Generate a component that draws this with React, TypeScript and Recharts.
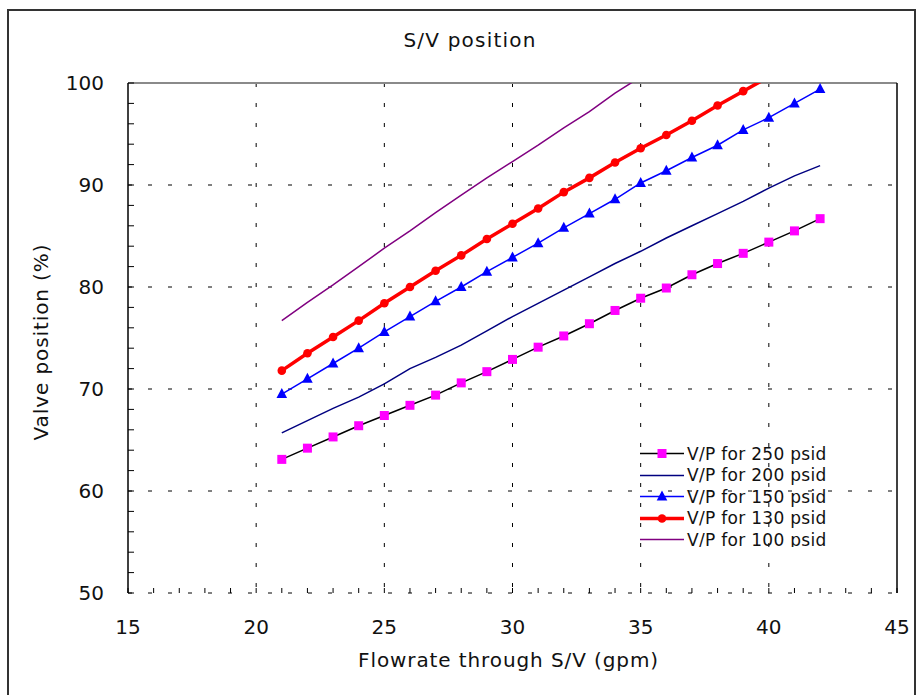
import React from 'react';
import { LineChart, Line, XAxis, YAxis, CartesianGrid, ReferenceLine, Legend } from 'recharts';

// ---- data ----
const flow = [21, 22, 23, 24, 25, 26, 27, 28, 29, 30, 31, 32, 33, 34, 35, 36, 37, 38, 39, 40, 41, 42];
const vp250 = [63.1, 64.2, 65.3, 66.4, 67.4, 68.4, 69.4, 70.6, 71.7, 72.9, 74.1, 75.2, 76.4, 77.7, 78.9, 79.9, 81.2, 82.3, 83.3, 84.4, 85.5, 86.7];
const vp200 = [65.7, 66.9, 68.1, 69.2, 70.5, 72.0, 73.1, 74.3, 75.7, 77.1, 78.4, 79.7, 81.0, 82.3, 83.5, 84.8, 86.0, 87.2, 88.4, 89.7, 90.9, 91.9];
const vp150 = [69.5, 71.0, 72.5, 74.0, 75.6, 77.1, 78.6, 80.0, 81.5, 82.9, 84.3, 85.8, 87.2, 88.6, 90.2, 91.4, 92.7, 93.9, 95.4, 96.6, 98.0, 99.4];
const vp130 = [71.8, 73.5, 75.1, 76.7, 78.4, 80.0, 81.6, 83.1, 84.7, 86.2, 87.7, 89.3, 90.7, 92.2, 93.6, 94.9, 96.3, 97.8, 99.2, 100.6, null, null];
const vp100 = [76.7, 78.5, 80.2, 82.0, 83.8, 85.5, 87.3, 89.0, 90.7, 92.3, 93.9, 95.6, 97.2, 99.0, 100.6, null, null, null, null, null, null, null];

const seriesNames = ['V/P for 250 psid', 'V/P for 200 psid', 'V/P for 150 psid', 'V/P for 130 psid', 'V/P for 100 psid'];

const xTicks = [15, 16, 17, 18, 19, 20, 21, 22, 23, 24, 25, 26, 27, 28, 29, 30, 31, 32, 33, 34, 35, 36, 37, 38, 39, 40, 41, 42, 43, 44, 45];
const yTicks = [50, 52, 54, 56, 58, 60, 62, 64, 66, 68, 70, 72, 74, 76, 78, 80, 82, 84, 86, 88, 90, 92, 94, 96, 98, 100];
const xGridValues = [20, 25, 30, 35, 40];
const yGridValues = [50, 60, 70, 80, 90, 100];

const titleText = 'S/V position';
const xAxisTitle = 'Flowrate through S/V (gpm)';
const yAxisTitle = 'Valve position (%)';

const data = flow.map((f, i) => ({
  flow: f,
  vp250: vp250[i],
  vp200: vp200[i],
  vp150: vp150[i],
  vp130: vp130[i],
  vp100: vp100[i],
}));

type MarkerType = 'square' | 'triangle' | 'circle' | 'none';
const series: { key: string; name: string; stroke: string; width: number; marker: MarkerType; markerColor: string }[] = [
  { key: 'vp250', name: seriesNames[0], stroke: '#000000', width: 1.5, marker: 'square', markerColor: '#FF00FF' },
  { key: 'vp200', name: seriesNames[1], stroke: '#000080', width: 1.5, marker: 'none', markerColor: '#000080' },
  { key: 'vp150', name: seriesNames[2], stroke: '#0000FF', width: 1.5, marker: 'triangle', markerColor: '#0000FF' },
  { key: 'vp130', name: seriesNames[3], stroke: '#FF0000', width: 3.5, marker: 'circle', markerColor: '#FF0000' },
  { key: 'vp100', name: seriesNames[4], stroke: '#800080', width: 1.5, marker: 'none', markerColor: '#800080' },
];

const FONT = '"DejaVu Sans", Verdana, sans-serif';

function Marker({ type, cx, cy, color }: { type: MarkerType; cx: number; cy: number; color: string }) {
  if (type === 'square') return <rect x={cx - 4.5} y={cy - 4.5} width={9} height={9} fill={color} />;
  if (type === 'triangle')
    return <polygon points={`${cx},${cy - 6} ${cx + 5.3},${cy + 4} ${cx - 5.3},${cy + 4}`} fill={color} />;
  if (type === 'circle') return <circle cx={cx} cy={cy} r={4.3} fill={color} />;
  return null;
}

function makeDot(s: (typeof series)[number]) {
  return (p: any) => {
    const k = `${s.key}-${p.index}`;
    if (s.marker === 'none' || p.cx == null || p.cy == null || p.value == null) return <g key={k} />;
    return (
      <g key={k}>
        <Marker type={s.marker} cx={p.cx} cy={p.cy} color={s.markerColor} />
      </g>
    );
  };
}

function LegendContent() {
  return (
    <div style={{ fontFamily: FONT }}>
      {series.map((s) => (
        <div key={s.key} style={{ display: 'flex', alignItems: 'center', height: 21.5 }}>
          <svg width={44} height={21} style={{ flex: 'none' }}>
            <line x1={0} x2={44} y1={10.5} y2={10.5} stroke={s.stroke} strokeWidth={s.width} />
            <Marker type={s.marker} cx={22} cy={10.5} color={s.markerColor} />
          </svg>
          <span style={{ marginLeft: 3, fontSize: 17, color: '#111', whiteSpace: 'nowrap', letterSpacing: 0.3 }}>
            {s.name}
          </span>
        </div>
      ))}
    </div>
  );
}

export default function App() {
  const tickStyle = { fill: '#111', fontSize: 20, fontFamily: FONT };
  return (
    <div
      style={{
        position: 'absolute',
        left: 0,
        top: 0,
        width: 922,
        height: 695,
        overflow: 'hidden',
        background: '#fff',
      }}
    >
      <div
        style={{
          position: 'absolute',
          left: 7,
          top: 9,
          width: 909,
          height: 720,
          border: '2px solid #333',
          boxSizing: 'border-box',
        }}
      />
      <div
        style={{
          position: 'absolute',
          left: 470,
          top: 28,
          transform: 'translateX(-50%)',
          fontFamily: FONT,
          fontSize: 20,
          letterSpacing: 1.2,
          color: '#111',
          whiteSpace: 'nowrap',
        }}
      >
        {titleText}
      </div>
      <div style={{ position: 'absolute', left: 0, top: 0 }}>
        <LineChart width={922} height={695} data={data} margin={{ top: 83, right: 25, left: 0, bottom: 22 }}>
          <CartesianGrid
            stroke="#000"
            strokeWidth={1}
            strokeDasharray="4 16"
            horizontalValues={yGridValues}
            verticalValues={xGridValues}
          />
          <ReferenceLine y={100} stroke="#8a8a8a" strokeWidth={2} />
          <ReferenceLine x={45} stroke="#000" strokeWidth={1.5} />
          <XAxis
            type="number"
            dataKey="flow"
            domain={[15, 45]}
            ticks={xTicks}
            interval={0}
            allowDataOverflow
            tickFormatter={(v: number) => (v % 5 === 0 ? String(v) : '')}
            tickSize={-5}
            tickMargin={32}
            height={80}
            axisLine={false}
            tickLine={{ stroke: '#000', strokeWidth: 1 }}
            tick={tickStyle}
            label={{
              content: (p: any) => {
                const vb = p.viewBox || {};
                return (
                  <text
                    x={vb.x + vb.width / 2 - 4}
                    y={vb.y + vb.height - 6}
                    textAnchor="middle"
                    fontFamily={FONT}
                    fontSize={20}
                    fill="#111"
                    style={{ letterSpacing: '0.9px' }}
                  >
                    {xAxisTitle}
                  </text>
                );
              },
            }}
          />
          <YAxis
            type="number"
            domain={[50, 100]}
            allowDataOverflow
            ticks={yTicks}
            interval={0}
            tickFormatter={(v: number) => (v % 10 === 0 ? String(v) : '')}
            tickSize={-6}
            tickMargin={30}
            width={128}
            axisLine={{ stroke: '#000', strokeWidth: 1.5 }}
            tickLine={{ stroke: '#000', strokeWidth: 1 }}
            tick={tickStyle}
            label={{
              content: (p: any) => {
                const vb = p.viewBox || {};
                const cx = vb.x + 41;
                const cy = vb.y + vb.height / 2 + 4;
                return (
                  <text
                    x={cx}
                    y={cy}
                    transform={`rotate(-90, ${cx}, ${cy})`}
                    textAnchor="middle"
                    dominantBaseline="central"
                    fontFamily={FONT}
                    fontSize={20}
                    fill="#111"
                    style={{ letterSpacing: '0.9px' }}
                  >
                    {yAxisTitle}
                  </text>
                );
              },
            }}
          />
          <Legend
            layout="vertical"
            align="center"
            verticalAlign="middle"
            content={() => <LegendContent />}
            wrapperStyle={{ position: 'absolute', left: 640, top: 443, width: 200, height: 104, overflow: 'hidden' }}
          />
          {series.map((s) => (
            <Line
              key={s.key}
              type="linear"
              dataKey={s.key}
              name={s.name}
              stroke={s.stroke}
              strokeWidth={s.width}
              dot={makeDot(s)}
              activeDot={false}
              isAnimationActive={false}
              connectNulls={false}
            />
          ))}
        </LineChart>
      </div>
    </div>
  );
}
